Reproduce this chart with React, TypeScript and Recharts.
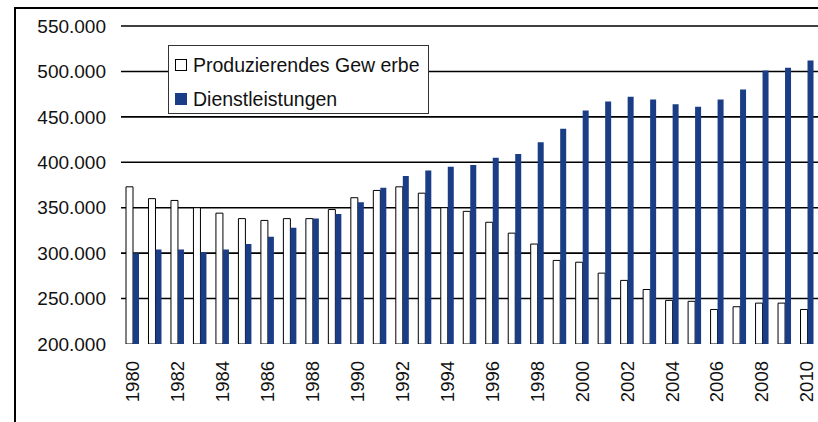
import React from 'react';
import { BarChart, Bar, XAxis, YAxis, CartesianGrid, Legend } from 'recharts';

const years = ['1980','1981','1982','1983','1984','1985','1986','1987','1988','1989','1990','1991','1992','1993','1994','1995','1996','1997','1998','1999','2000','2001','2002','2003','2004','2005','2006','2007','2008','2009','2010'];
const produzierendesGewerbe = [373000,360000,358000,350000,344000,338000,336000,338000,338000,348000,361000,369000,373000,366000,350000,346000,334000,322000,310000,292000,290000,278000,270000,260000,248000,247000,238000,241000,245000,245000,238000];
const dienstleistungen = [300000,304000,304000,301000,304000,310000,318000,328000,338000,343000,356000,372000,385000,391000,395000,397000,405000,409000,422000,437000,457000,467000,472000,469000,464000,461000,469000,480000,501000,504000,512000];
const yTicks = [200000,250000,300000,350000,400000,450000,500000,550000];
const gridValues = [250000,300000,350000,400000,450000,500000,550000];
const seriesNames = ['Produzierendes Gew erbe', 'Dienstleistungen'];

const data = years.map((year, i) => ({
  year,
  prod: produzierendesGewerbe[i],
  dienst: dienstleistungen[i],
}));

const FONT = '"Liberation Sans", Arial, Helvetica, sans-serif';
const BLUE = '#1a3d85';

const fmt = (v: number) => `${Math.round(v / 1000)}.000`;

const XTick = (props: any) => {
  const { x, y, payload } = props;
  return (
    <text
      x={x}
      y={y}
      transform={`rotate(-90, ${x}, ${y})`}
      textAnchor="end"
      dy="0.36em"
      fontSize={18.5}
      fontFamily={FONT}
      fill="#111"
    >
      {payload.value}
    </text>
  );
};

const LegendBox = () => (
  <div
    style={{
      position: 'relative',
      width: 261,
      height: 69,
      boxSizing: 'border-box',
      border: '1px solid #333',
      background: '#fff',
      fontFamily: FONT,
      fontSize: 19.5,
      color: '#111',
    }}
  >
    <div style={{ position: 'absolute', left: 6, top: 13, width: 12, height: 12, boxSizing: 'border-box', border: '1.5px solid #000', background: '#fff' }} />
    <div style={{ position: 'absolute', left: 24, top: 8, lineHeight: '22px', whiteSpace: 'nowrap' }}>{seriesNames[0]}</div>
    <div style={{ position: 'absolute', left: 6, top: 47, width: 12, height: 12, background: BLUE }} />
    <div style={{ position: 'absolute', left: 24, top: 42, lineHeight: '22px', whiteSpace: 'nowrap' }}>{seriesNames[1]}</div>
  </div>
);

export default function App() {
  return (
    <div style={{ position: 'absolute', left: 0, top: 0, width: 818, height: 422, overflow: 'hidden', background: '#fff' }}>
      <div style={{ position: 'absolute', left: 14, top: 7, width: 900, height: 500, borderLeft: '2px solid #000', borderTop: '2px solid #000' }} />
      <div style={{ position: 'absolute', left: 0, top: 0 }}>
        <BarChart width={818} height={422} data={data} margin={{ top: 26, right: 0, bottom: 0, left: 0 }} barGap={0}>
          <CartesianGrid vertical={false} horizontalValues={gridValues} stroke="#000" strokeWidth={1.6} />
          <XAxis dataKey="year" height={78} interval={1} tickLine={false} axisLine={false} tickSize={0} tickMargin={17} tick={<XTick />} />
          <YAxis
            width={121}
            domain={[200000, 550000]}
            ticks={yTicks}
            allowDataOverflow
            tickLine={false}
            axisLine={false}
            tickSize={0}
            tickMargin={15}
            tickFormatter={fmt}
            tick={{ fontSize: 19, fontFamily: FONT, fill: '#111' }}
          />
          <Legend
            layout="vertical"
            align="center"
            verticalAlign="middle"
            content={<LegendBox />}
            wrapperStyle={{ position: 'absolute', left: 168, top: 45, width: 261, height: 69 }}
          />
          <Bar dataKey="prod" name={seriesNames[0]} barSize={7} fill="#fff" stroke="#000" strokeWidth={1} isAnimationActive={false} />
          <Bar dataKey="dienst" name={seriesNames[1]} barSize={6} fill={BLUE} isAnimationActive={false} />
        </BarChart>
      </div>
    </div>
  );
}
